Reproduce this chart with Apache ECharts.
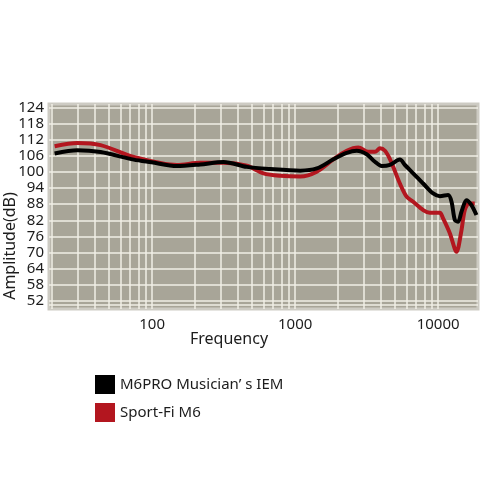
<!DOCTYPE html>
<html>
<head>
<meta charset="utf-8">
<script src="https://cdn.jsdelivr.net/npm/echarts@6/dist/echarts.min.js"></script>
<style>
  html, body { margin: 0; padding: 0; background: #fff; }
  #chart { width: 500px; height: 500px; }
</style>
</head>
<body>
<div id="chart"></div>
<script>
// frequency response: [Hz, dB]
const m6proData = [
  [20.8, 106.9], [30, 108.1], [43.6, 107.4], [74.4, 104.6], [99, 103.6],
  [149, 102.2], [217, 102.8], [316, 103.7], [460, 101.9], [670, 101.1],
  [1087, 100.5], [1417, 101.3], [1850, 104.7], [2295, 107.1], [2696, 107.9],
  [3165, 106.6], [3615, 103.8], [4030, 102.2], [4600, 102.6], [5400, 104.6],
  [5860, 102.6], [6690, 99.5], [7860, 95.7], [9230, 92], [10280, 91],
  [11740, 91.4], [12410, 88.9], [13090, 82.1], [13800, 81.5], [14560, 85.2],
  [15780, 89.5], [17090, 87.7], [18530, 84]
];
const sportFiData = [
  [20.8, 109.6], [30, 110.8], [43.6, 110], [74.4, 105.6], [149, 102.6],
  [217, 103.4], [316, 103.4], [460, 102.3], [601, 99.5], [786, 98.6],
  [1087, 98.3], [1417, 100.1], [1850, 104.7], [2295, 107.9], [2767, 109.1],
  [3250, 107.5], [3615, 107.5], [3920, 108.8], [4250, 107.9], [4600, 104.8],
  [4850, 101.9], [5400, 95.7], [6020, 90.8], [6690, 88.9], [7860, 85.8],
  [8750, 84.8], [10280, 84.8], [10830, 82.7], [12070, 77.2], [13440, 70.3],
  [14560, 78.3], [15350, 85.8], [16450, 88.3], [18030, 88.3]
];

const yTicks = [52, 58, 64, 70, 76, 82, 88, 94, 100, 106, 112, 118, 124];
const yGridExtra = [50.7];
const xGrid = [
  20, 30, 40, 50, 60, 70, 80, 90,
  100, 200, 300, 400, 500, 600, 700, 800, 900,
  1000, 2000, 3000, 4000, 5000, 6000, 7000, 8000, 9000,
  10000
];
const seriesNames = ['M6PRO Musician’ s IEM', 'Sport-Fi M6'];

const gridColor = '#f1efe6';
const textColor = '#1c1c1c';
const font = 'Noto Sans';

const chart = echarts.init(document.getElementById('chart'));

const gridLines = xGrid.map(v => ({ xAxis: v }))
  .concat(yTicks.concat(yGridExtra).map(v => ({ yAxis: v })));

chart.setOption({
  animation: false,
  grid: {
    left: 49, right: 22, top: 104, bottom: 191,
    show: true,
    backgroundColor: '#a8a598',
    borderColor: '#cdcbc3',
    borderWidth: 3
  },
  legend: {
    orient: 'vertical',
    left: 90, top: 370,
    itemWidth: 20, itemHeight: 19, itemGap: 9,
    icon: 'rect',
    data: [
      { name: seriesNames[0], itemStyle: { color: '#000' } },
      { name: seriesNames[1], itemStyle: { color: '#b3161f' } }
    ],
    textStyle: { fontFamily: font, fontSize: 15, color: textColor }
  },
  graphic: [
    {
      type: 'text', left: 190, top: 331,
      style: { text: 'Frequency', font: '16px "Noto Sans"', fill: textColor }
    },
    {
      type: 'text', x: 10, y: 246, rotation: Math.PI / 2,
      style: {
        text: 'Amplitude(dB)', font: '16px "Noto Sans"', fill: textColor,
        align: 'center', verticalAlign: 'middle'
      }
    }
  ],
  xAxis: {
    type: 'log',
    logBase: 10,
    min: 19,
    max: 19000,
    axisLine: { show: false },
    axisTick: { show: false },
    splitLine: { show: false },
    axisLabel: {
      showMinLabel: false, showMaxLabel: false,
      margin: 8,
      formatter: v => String(Math.round(v)),
      fontFamily: font, fontSize: 15, color: textColor
    }
  },
  yAxis: {
    type: 'value',
    min: 49,
    max: 125.3,
    axisLine: { show: false },
    axisTick: { show: false },
    splitLine: { show: false },
    axisLabel: {
      customValues: yTicks,
      margin: 5,
      fontFamily: font, fontSize: 15, color: textColor
    }
  },
  series: [
    {
      name: 'grid',
      type: 'line',
      data: [],
      silent: true,
      z: 1,
      markLine: {
        silent: true,
        z: 1,
        symbol: 'none',
        label: { show: false },
        lineStyle: { color: gridColor, width: 1.5, type: 'solid' },
        data: gridLines
      }
    },
    {
      name: seriesNames[1],
      type: 'line',
      data: sportFiData,
      z: 5,
      smooth: 0.3,
      showSymbol: false,
      lineStyle: { color: '#b3161f', width: 4 },
      itemStyle: { color: '#b3161f' }
    },
    {
      name: seriesNames[0],
      type: 'line',
      data: m6proData,
      z: 6,
      smooth: 0.3,
      showSymbol: false,
      lineStyle: { color: '#000', width: 4 },
      itemStyle: { color: '#000' }
    }
  ]
});
</script>
</body>
</html>
